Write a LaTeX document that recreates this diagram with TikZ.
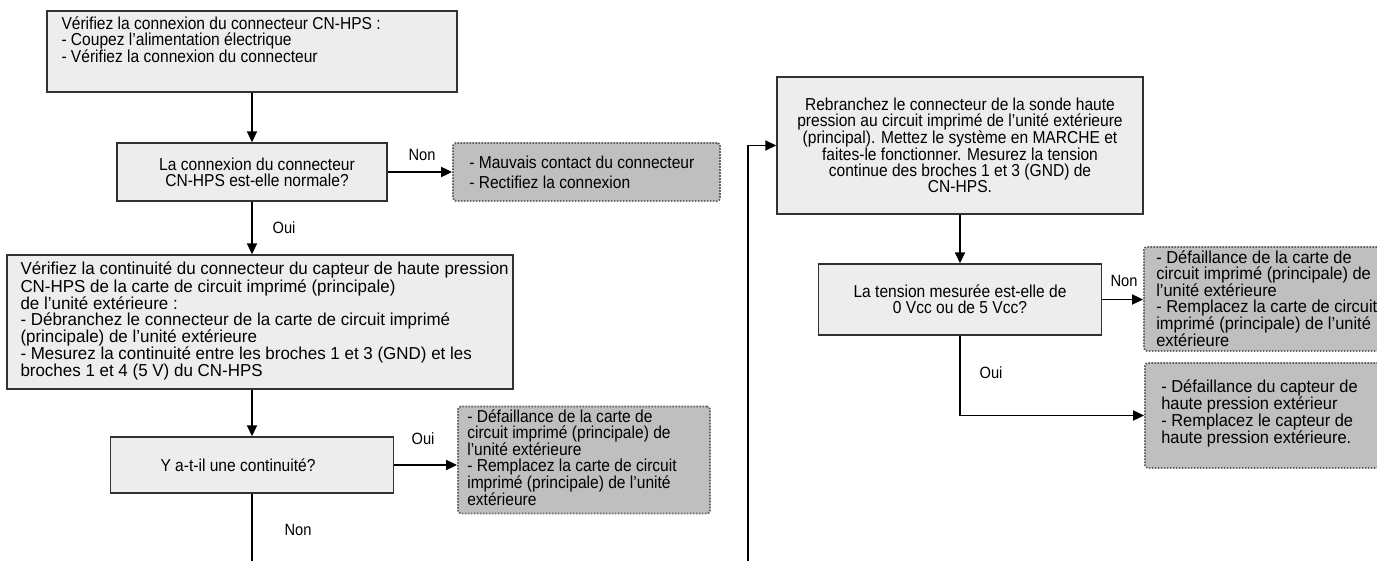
\documentclass[tikz,border=0pt]{standalone}
\usepackage{fontspec}
\setmainfont{Liberation Sans}[FakeStretch=0.9]
% slightly wider cuts of the same face for the longer text blocks
\newfontfamily\widefont{Liberation Sans}[FakeStretch=0.98]
\newfontfamily\midfont{Liberation Sans}[FakeStretch=0.95]
\usetikzlibrary{arrows.meta}
\definecolor{boxfill}{RGB}{237,237,237}
\definecolor{boxline}{RGB}{50,50,50}
\definecolor{notefill}{RGB}{191,191,191}
\definecolor{noteline}{RGB}{100,100,100}

\begin{document}
\begin{tikzpicture}[x=1pt,y=-1pt,
  every node/.style={font=\fontsize{17.3}{15.7}\selectfont},
  stepbox/.style={draw=boxline, line width=1.4pt, fill=boxfill, inner sep=0pt, align=center},
  notebox/.style={draw=noteline, fill=notefill, line width=1.8pt,
    dash pattern=on 1.6pt off 1.4pt, rounded corners=3pt, inner sep=0pt},
  txt/.style={inner sep=0pt, align=left},
  flow/.style={line width=1.8pt, -{Triangle[length=11pt,width=10pt]}},
  plain/.style={line width=1.8pt},
  lbl/.style={font=\fontsize{16.3}{16}\selectfont, inner sep=0pt}
]
\clip (0,0) rectangle (1377,561);
\fill[white] (0,0) rectangle (1377,561);

% ---------- left column ----------
\node[stepbox, minimum width=410pt, minimum height=81pt] (box1) at (252,51.5) {};
\node[txt, anchor=north west] (box1t) at ([xshift=15pt,yshift=-6.5pt]box1.north west)
  {Vérifiez la connexion du connecteur CN-HPS :\\
   - Coupez l’alimentation électrique\\
   - Vérifiez la connexion du connecteur};

\node[stepbox, minimum width=270pt, minimum height=58pt] (dec1) at (252,172)
  {\hspace*{10pt}La connexion du connecteur\\\hspace*{10pt}CN-HPS est-elle normale?};

\node[notebox, minimum width=267pt, minimum height=58pt] (note1) at (586.5,172) {};
\node[txt, anchor=west] (note1t) at ([xshift=17pt]note1.west)
  {- Mauvais contact du connecteur\\[4pt]- Rectifiez la connexion};

\node[stepbox, minimum width=506pt, minimum height=134pt] (box3) at (260,322) {};
\node[txt, anchor=north west, font=\widefont\fontsize{17.3}{15.7}\selectfont] (box3t)
  at ([xshift=14pt,yshift=-7.5pt]box3.north west)
  {Vérifiez la continuité du connecteur du capteur de haute pression\\
   CN-HPS de la carte de circuit imprimé (principale)\\
   de l’unité extérieure :\\
   - Débranchez le connecteur de la carte de circuit imprimé\\
   (principale) de l’unité extérieure\\
   - Mesurez la continuité entre les broches 1 et 3 (GND) et les\\
   broches 1 et 4 (5 V) du CN-HPS};

\node[stepbox, minimum width=283pt, minimum height=56pt] (dec2) at (252,465)
  {Y a-t-il une continuité?\hspace*{28pt}};

\node[notebox, minimum width=252pt, minimum height=107pt] (note2) at (584,460) {};
\node[txt, anchor=west] (note2t) at ([xshift=10pt,yshift=2pt]note2.west)
  {- Défaillance de la carte de\\
   circuit imprimé (principale) de\\
   l’unité extérieure\\
   - Remplacez la carte de circuit\\
   imprimé (principale) de l’unité\\
   extérieure};

% ---------- right column ----------
\node[stepbox, minimum width=366pt, minimum height=137pt,
      font=\fontsize{17.3}{15.9}\selectfont] (box5) at (960,145.5)
  {Rebranchez le connecteur de la sonde haute\\
   pression au circuit imprimé de l’unité extérieure\\
   (principal). Mettez le système en MARCHE et\\
   faites-le fonctionner. Mesurez la tension\\
   continue des broches 1 et 3 (GND) de\\
   CN-HPS.};

\node[stepbox, minimum width=283pt, minimum height=71pt] (dec3) at (960,299.5)
  {La tension mesurée est-elle de\\0 Vcc ou de 5 Vcc?};

\node[notebox, minimum width=260pt, minimum height=104pt] (note3) at (1274,299) {};
\node[txt, anchor=west, font=\midfont\fontsize{17.3}{15.7}\selectfont] (note3t)
  at ([xshift=13pt,yshift=0pt]note3.west)
  {- Défaillance de la carte de\\
   circuit imprimé (principale) de\\
   l’unité extérieure\\
   - Remplacez la carte de circuit\\
   imprimé (principale) de l’unité\\
   extérieure};

\node[notebox, minimum width=260pt, minimum height=105pt] (note4) at (1275,415.5) {};
\node[txt, anchor=west, font=\midfont\fontsize{17.3}{15.7}\selectfont] (note4t)
  at ([xshift=17pt,yshift=2pt]note4.west)
  {- Défaillance du capteur de\\
   haute pression extérieur\\
   - Remplacez le capteur de\\
   haute pression extérieure.};

% ---------- loose ends at the page bottom ----------
\coordinate (endA) at (252,561);
\coordinate (endB) at (748,561);

% ---------- connectors ----------
\draw[flow] (box1.south) -- (dec1.north);
\draw[flow] (dec1.east) -- (note1.west);
\draw[flow] (dec1.south) -- (box3.north -| dec1.south);
\draw[flow] (box3.south -| dec2.north) -- (dec2.north);
\draw[flow] (dec2.east) -- (dec2.east -| note2.west);
\draw[plain] (dec2.south) -- (endA);
\draw[flow] (endB) |- (box5.west);
\draw[flow] (box5.south) -- (dec3.north);
\draw[flow] (dec3.east) -- (dec3.east -| note3.west);
\draw[flow] (dec3.south) |- (note4.west);

% ---------- branch labels ----------
\node[lbl] (l1) at (422,155) {Non};
\node[lbl] (l2) at (284,228) {Oui};
\node[lbl] (l3) at (423,439) {Oui};
\node[lbl] (l4) at (298,530) {Non};
\node[lbl] (l5) at (1124,281) {Non};
\node[lbl] (l6) at (991,373) {Oui};
\end{tikzpicture}
\end{document}
